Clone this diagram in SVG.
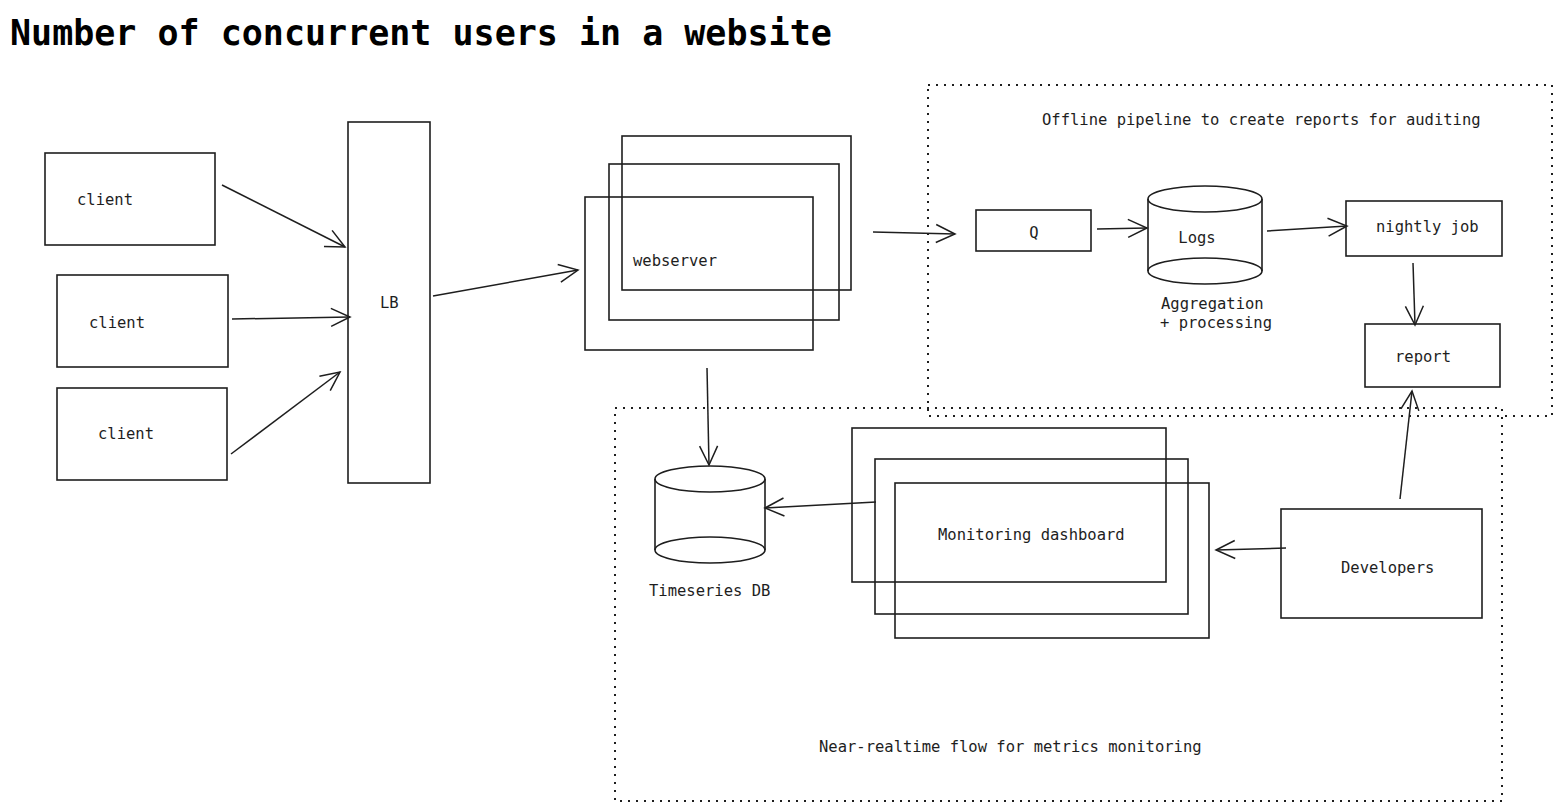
<svg xmlns="http://www.w3.org/2000/svg" width="1563" height="811" viewBox="0 0 1563 811">
<style>
  .box{fill:none;stroke:#1e1e1e;stroke-width:1.6}
  .conn{fill:none;stroke:#1e1e1e;stroke-width:1.5}
  .group{fill:none;stroke:#1e1e1e;stroke-width:2;stroke-dasharray:2 6}
  text{font-family:"DejaVu Sans Mono","Liberation Mono",monospace;fill:#1e1e1e}
  .lbl{font-size:15.5px}
  .title{font-size:35px;font-weight:bold;fill:#000}
</style>
<defs>
  <marker id="arr" markerUnits="userSpaceOnUse" markerWidth="26" markerHeight="26" refX="22" refY="13" orient="auto">
    <path d="M3,4 L22,13 L3,22" fill="none" stroke="#1e1e1e" stroke-width="1.5"/>
  </marker>
</defs>
<rect width="1563" height="811" fill="#ffffff"/>
<text class="title" x="10" y="45">Number of concurrent users in a website</text>

<g id="offline-group">
  <rect class="group" x="928" y="85" width="624" height="331"/>
  <text class="lbl" x="1042" y="125">Offline pipeline to create reports for auditing</text>
</g>
<g id="realtime-group">
  <rect class="group" x="615" y="408" width="887" height="393"/>
  <text class="lbl" x="819" y="752">Near-realtime flow for metrics monitoring</text>
</g>

<g id="client1"><rect class="box" x="45" y="153" width="170" height="92"/><text class="lbl" x="77" y="205">client</text></g>
<g id="client2"><rect class="box" x="57" y="275" width="171" height="92"/><text class="lbl" x="89" y="328">client</text></g>
<g id="client3"><rect class="box" x="57" y="388" width="170" height="92"/><text class="lbl" x="98" y="439">client</text></g>
<g id="lb"><rect class="box" x="348" y="122" width="82" height="361"/><text class="lbl" x="380" y="308">LB</text></g>

<g id="webserver">
  <rect class="box" x="622" y="136" width="229" height="154"/>
  <rect class="box" x="609" y="164" width="230" height="156"/>
  <rect class="box" x="585" y="197" width="228" height="153"/>
  <text class="lbl" x="633" y="266">webserver</text>
</g>

<g id="q"><rect class="box" x="976" y="210" width="115" height="41"/><text class="lbl" x="1034" y="238" text-anchor="middle">Q</text></g>

<g id="logs">
  <path class="box" d="M1148,199 L1148,271 M1262,199 L1262,271"/>
  <ellipse class="box" cx="1205" cy="199" rx="57" ry="13"/>
  <path class="box" d="M1148,271 A57,13 0 0 0 1262,271 A57,13 0 0 0 1148,271"/>
  <text class="lbl" x="1197" y="243" text-anchor="middle">Logs</text>
  <text class="lbl" x="1161" y="309">Aggregation</text>
  <text class="lbl" x="1160" y="328">+ processing</text>
</g>

<g id="nightly"><rect class="box" x="1346" y="201" width="156" height="55"/><text class="lbl" x="1376" y="232">nightly job</text></g>
<g id="report"><rect class="box" x="1365" y="324" width="135" height="63"/><text class="lbl" x="1395" y="362">report</text></g>
<g id="developers"><rect class="box" x="1281" y="509" width="201" height="109"/><text class="lbl" x="1341" y="573">Developers</text></g>

<g id="dashboard">
  <rect class="box" x="852" y="428" width="314" height="154"/>
  <rect class="box" x="875" y="459" width="313" height="155"/>
  <rect class="box" x="895" y="483" width="314" height="155"/>
  <text class="lbl" x="938" y="540">Monitoring dashboard</text>
</g>

<g id="tsdb">
  <path class="box" d="M655,479 L655,550 M765,479 L765,550"/>
  <ellipse class="box" cx="710" cy="479" rx="55" ry="13"/>
  <path class="box" d="M655,550 A55,13 0 0 0 765,550 A55,13 0 0 0 655,550"/>
  <text class="lbl" x="649" y="596">Timeseries DB</text>
</g>

<g id="connectors">
  <line class="conn" x1="222" y1="185" x2="345" y2="247" marker-end="url(#arr)"/>
  <line class="conn" x1="232" y1="319" x2="350" y2="317" marker-end="url(#arr)"/>
  <line class="conn" x1="231" y1="454" x2="340" y2="372" marker-end="url(#arr)"/>
  <line class="conn" x1="433" y1="296" x2="578" y2="270" marker-end="url(#arr)"/>
  <line class="conn" x1="873" y1="232" x2="955" y2="234" marker-end="url(#arr)"/>
  <line class="conn" x1="1097" y1="229" x2="1147" y2="228" marker-end="url(#arr)"/>
  <line class="conn" x1="1267" y1="231" x2="1347" y2="226" marker-end="url(#arr)"/>
  <line class="conn" x1="1413" y1="263" x2="1415" y2="325" marker-end="url(#arr)"/>
  <line class="conn" x1="1400" y1="499" x2="1412" y2="391" marker-end="url(#arr)"/>
  <line class="conn" x1="1286" y1="548" x2="1216" y2="550" marker-end="url(#arr)"/>
  <line class="conn" x1="876" y1="502" x2="765" y2="508" marker-end="url(#arr)"/>
  <line class="conn" x1="707" y1="368" x2="709" y2="465" marker-end="url(#arr)"/>
</g>
</svg>
